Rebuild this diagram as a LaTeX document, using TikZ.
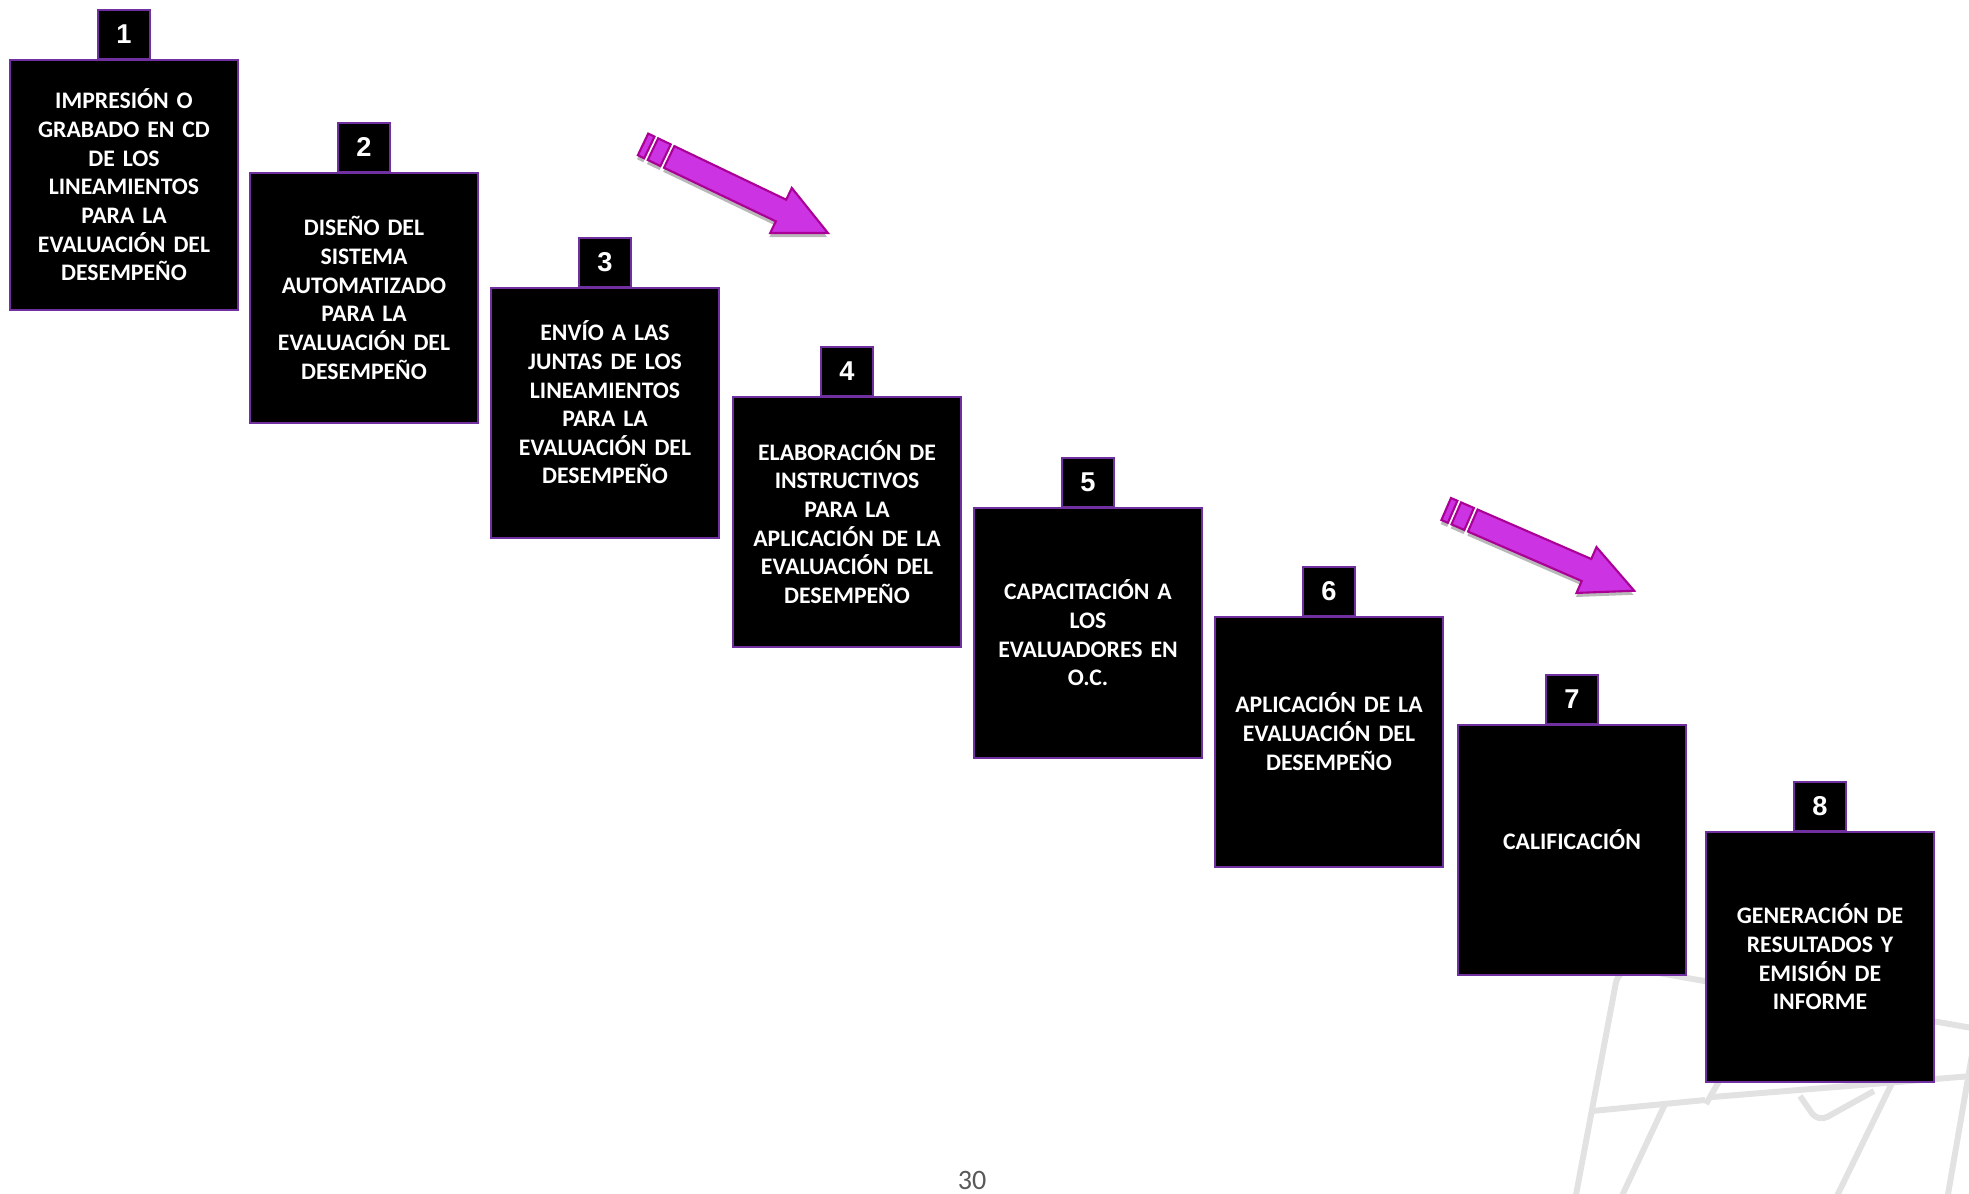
\documentclass[tikz,border=0pt]{standalone}
\usepackage{fontspec}
\setmainfont{Carlito}
\newfontfamily\numfont{Liberation Sans}
\usetikzlibrary{positioning}
\definecolor{morado}{RGB}{112,48,160}
\definecolor{flechafill}{RGB}{204,51,226}
\definecolor{flechaline}{RGB}{170,0,150}
\definecolor{marcagris}{RGB}{226,226,226}
\definecolor{pagina}{RGB}{89,89,89}
\begin{document}
\begin{tikzpicture}[x=0.02cm,y=-0.02cm,
  paso/.style={draw=morado,line width=1.6pt,fill=black,text=white,minimum width=4.56cm,minimum height=5cm,text width=4.3cm,align=center,inner sep=0pt,font=\bfseries\fontsize{13.5}{16.3}\selectfont},
  arriba/.style={execute at end node={\endgraf\vspace*{0.42cm}}},
  num/.style={draw=morado,line width=1.6pt,fill=black,text=white,minimum width=1.04cm,minimum height=0.98cm,inner sep=0pt,font=\numfont\bfseries\fontsize{15.5}{17}\selectfont},
  marca/.style={draw=marcagris,line width=3.4pt},
  flecha/.pic={
    \fill[gray!55,shift={(1,4)}] (-124,-12) -- (0,-12) -- (0,-25) -- (52,0) -- (0,25) -- (0,12) -- (-124,12) -- cycle
      (-142,-12) rectangle (-128,12) (-153,-12) rectangle (-146,12);
    \filldraw[fill=flechafill,draw=flechaline,line width=1.2pt,line join=miter] (-124,-12) -- (0,-12) -- (0,-25) -- (52,0) -- (0,25) -- (0,12) -- (-124,12) -- cycle
      (-142,-12) rectangle (-128,12) (-153,-12) rectangle (-146,12);
  }]
\useasboundingbox (0,0) rectangle (1969,1194);
\clip (0,0) rectangle (1969,1194);
% marca de agua
\draw[marca,rounded corners=10] (1575,1200) -- (1619,966) -- (1972,1028);
\draw[marca] (1592,1111) -- (1705,1100);
\draw[marca] (1722,1076) -- (1706,1104);
\draw[marca] (1712,1097) -- (1972,1076);
\draw[marca] (1665,1104) -- (1620,1200);
\draw[marca] (1892,1083) -- (1835,1200);
\draw[marca] (1972,1055) -- (1947,1200);
\draw[marca,rounded corners=6] (1800,1096) -- (1818,1122) -- (1874,1091);
% pasos
\node[paso] (b1) at (124,185) {IMPRESIÓN O\\GRABADO EN CD\\DE LOS\\LINEAMIENTOS\\PARA LA\\EVALUACIÓN DEL\\DESEMPEÑO};
\node[paso] (b2) at (364,298) {DISEÑO DEL\\SISTEMA\\AUTOMATIZADO\\PARA LA\\EVALUACIÓN DEL\\DESEMPEÑO};
\node[paso,arriba] (b3) at (605,413) {ENVÍO A LAS\\JUNTAS DE LOS\\LINEAMIENTOS\\PARA LA\\EVALUACIÓN DEL\\DESEMPEÑO};
\node[paso] (b4) at (847,522) {ELABORACIÓN DE\\INSTRUCTIVOS\\PARA LA\\APLICACIÓN DE LA\\EVALUACIÓN DEL\\DESEMPEÑO};
\node[paso] (b5) at (1088,633) {CAPACITACIÓN A\\LOS\\EVALUADORES EN\\O.C.};
\node[paso,arriba] (b6) at (1329,742) {APLICACIÓN DE LA\\EVALUACIÓN DEL\\DESEMPEÑO};
\node[paso,arriba] (b7) at (1572,850) {CALIFICACIÓN};
\node[paso] (b8) at (1820,957) {GENERACIÓN DE\\RESULTADOS Y\\EMISIÓN DE\\INFORME};
% numeros
\node[num,above=-1pt of b1] (t1) {1};
\node[num,above=-1pt of b2] (t2) {2};
\node[num,above=-1pt of b3] (t3) {3};
\node[num,above=-1pt of b4] (t4) {4};
\node[num,above=-1pt of b5] (t5) {5};
\node[num,above=-1pt of b6] (t6) {6};
\node[num,above=-1pt of b7] (t7) {7};
\node[num,above=-1pt of b8] (t8) {8};
% flechas
\pic[rotate=-25.6] at (781,210.5) {flecha};
\pic[rotate=-23.5] at (1586.5,570) {flecha};
% pagina
\node[anchor=base,text=pagina,font=\fontsize{16}{19}\selectfont] (pag) at (972,1189) {30};
\end{tikzpicture}
\end{document}
